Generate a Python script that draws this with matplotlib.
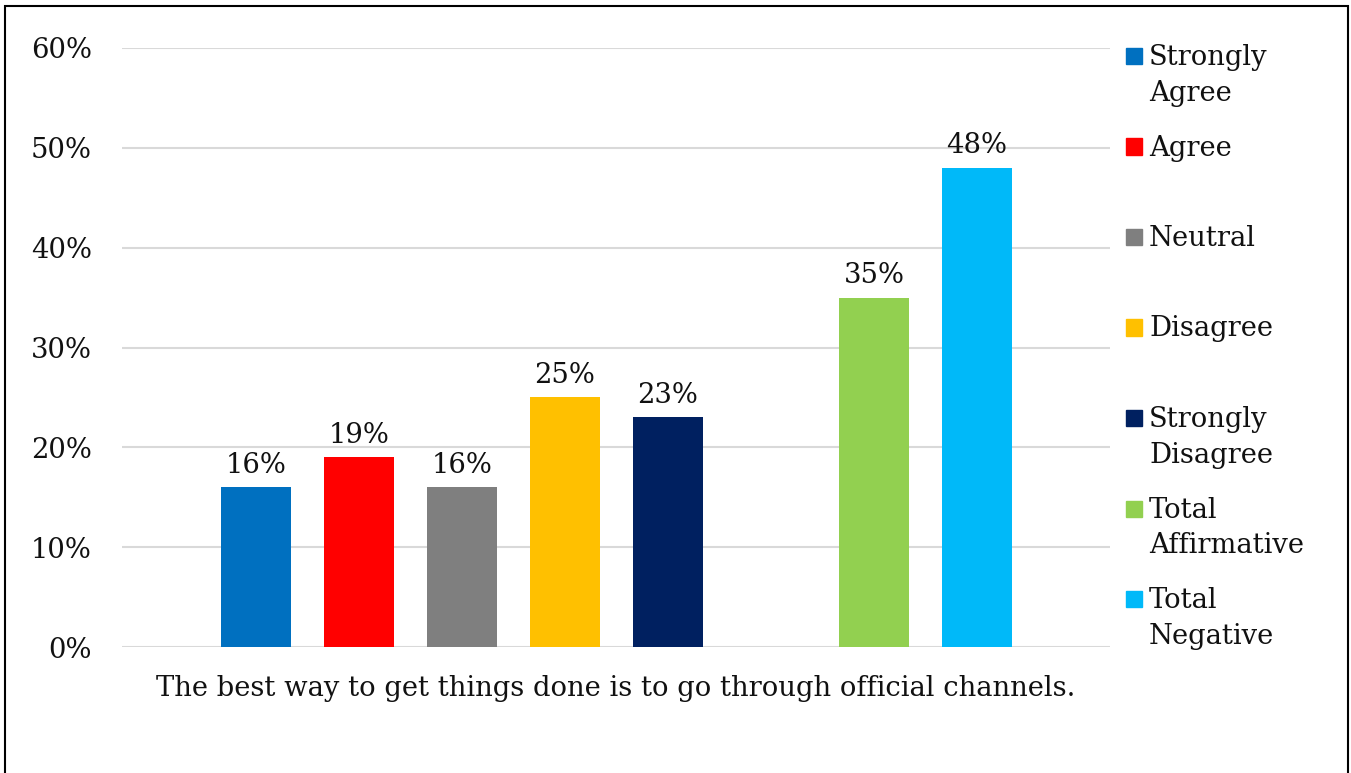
import matplotlib.pyplot as plt
from matplotlib.patches import Rectangle
from matplotlib.ticker import PercentFormatter

# survey answers, one bar each (slot 5 left empty like the original)
labels = ["Strongly\nAgree", "Agree", "Neutral", "Disagree",
          "Strongly\nDisagree", "Total\nAffirmative", "Total\nNegative"]
values = [0.16, 0.19, 0.16, 0.25, 0.23, 0.35, 0.48]
slots = [0, 1, 2, 3, 4, 6, 7]
colors = ["#0070C0", "#FF0000", "#7F7F7F", "#FFC000",
          "#002060", "#92D050", "#00B9F9"]
question = "The best way to get things done is to go through official channels."

plt.rcParams['font.family'] = ['DejaVu Serif']
FS = 19.7
W, H = 1351, 773
fig = plt.figure(figsize=(W / 100, H / 100), dpi=100)

ax = fig.add_axes([122 / W, 1 - 647 / H, (1110 - 122) / W, (647 - 48) / H])
bars = ax.bar(slots, values, width=0.68, color=colors, zorder=3)
ax.bar_label(bars, labels=[f"{v:.0%}" for v in values], padding=6,
             fontsize=FS, color="#111111")

ax.set_xlim(-1.30, 8.29)
ax.set_ylim(0, 0.6)
ax.set_yticks([0, 0.1, 0.2, 0.3, 0.4, 0.5, 0.6])
ax.yaxis.set_major_formatter(PercentFormatter(1.0, decimals=0))
ax.tick_params(axis="y", length=0, pad=21.6, labelsize=FS, labelcolor="#111111")
ax.set_xticks([])
ax.grid(axis="y", color="#D9D9D9", linewidth=1.5, zorder=0)
for s in ax.spines.values():
    s.set_visible(False)

fig.text(616 / W, 1 - 688 / H, question, ha="center", va="center",
         fontsize=FS, color="#111111")

# legend, entries every ~90 px, swatch next to the first line
for i, (lab, c) in enumerate(zip(labels, colors)):
    y = 56 + i * 90.5
    fig.add_artist(Rectangle((1126 / W, 1 - (y + 8) / H), 16 / W, 16 / H,
                             transform=fig.transFigure, color=c))
    fig.text(1149 / W, 1 - (y - 12) / H, lab, ha="left", va="top",
             fontsize=FS, color="#111111", linespacing=1.41)

# outer frame
fig.add_artist(Rectangle((5 / W, -0.01), (1348 - 5) / W, (773 - 6) / H + 0.01,
                         transform=fig.transFigure, fill=False,
                         edgecolor="black", linewidth=1.5, clip_on=False))

fig.savefig("out.png", dpi=100)
